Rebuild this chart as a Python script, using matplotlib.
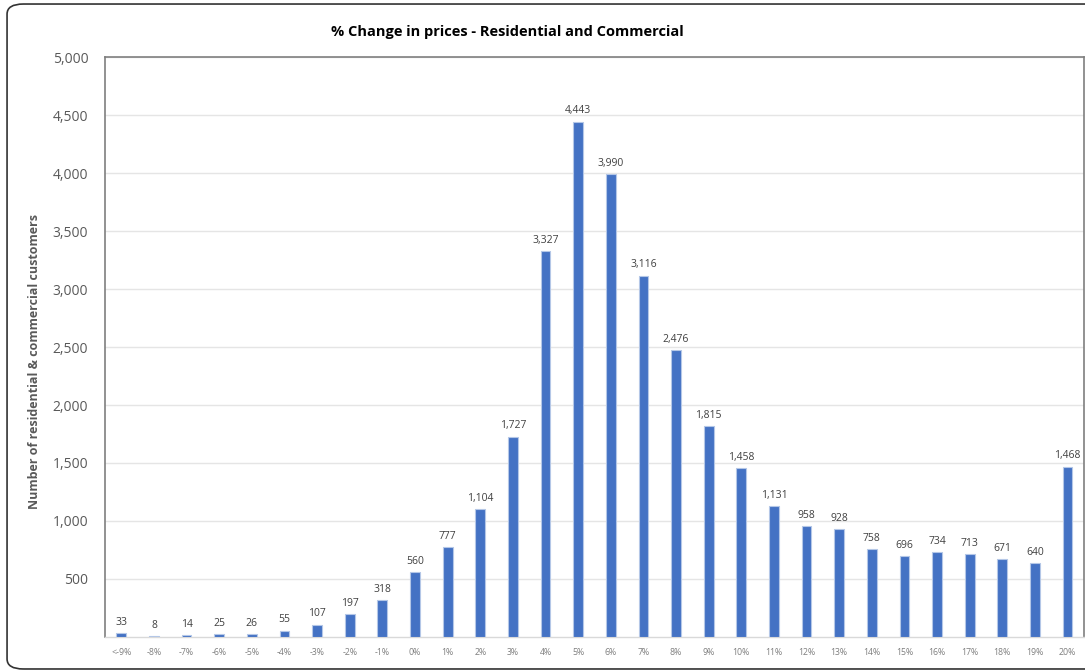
import matplotlib
matplotlib.use("Agg")
import matplotlib.pyplot as plt
from matplotlib.patches import FancyBboxPatch

categories = ["<-9%", "-8%", "-7%", "-6%", "-5%", "-4%", "-3%", "-2%", "-1%", "0%",
              "1%", "2%", "3%", "4%", "5%", "6%", "7%", "8%", "9%", "10%",
              "11%", "12%", "13%", "14%", "15%", "16%", "17%", "18%", "19%", "20%"]
values = [33, 8, 14, 25, 26, 55, 107, 197, 318, 560,
          777, 1104, 1727, 3327, 4443, 3990, 3116, 2476, 1815, 1458,
          1131, 958, 928, 758, 696, 734, 713, 671, 640, 1468]
yticks = [500, 1000, 1500, 2000, 2500, 3000, 3500, 4000, 4500, 5000]

plt.rcParams['font.family'] = ['Open Sans', 'DejaVu Sans']

fig = plt.figure(figsize=(10.85, 6.71), dpi=100)
frame = FancyBboxPatch((0.0065, 0.003), 1.2, 0.991, boxstyle="round,pad=0,rounding_size=0.015",
                       transform=fig.transFigure, facecolor="none", edgecolor="#333333",
                       linewidth=1.2, zorder=0)
fig.patches.append(frame)

ax = fig.add_axes([0.0968, 0.0507, 0.9022, 0.8643])
ax.set_facecolor("none")
x = list(range(len(categories)))
ax.bar(x, values, width=0.3, color="#4472C4", edgecolor="#B4C7E7", linewidth=0.8, zorder=3)
for xi, v in zip(x, values):
    ax.text(xi, v + 45, f"{v:,}", ha="center", va="bottom", fontsize=7.5, color="#404040")

ax.set_xlim(-0.5, len(categories) - 0.5)
ax.set_ylim(0, 5000)
ax.set_yticks(yticks)
ax.set_yticklabels([f"{t:,}" for t in yticks], fontsize=10, color="#595959")
ax.set_xticks(x)
ax.set_xticklabels(categories, fontsize=6.3, color="#7F7F7F")
ax.tick_params(axis="both", length=0, pad=8)
ax.tick_params(axis="y", pad=12)
ax.grid(axis="y", color="#E5E5E5", linewidth=1, zorder=0)
for s in ["top", "left", "right"]:
    ax.spines[s].set_color("#7F7F7F")
    ax.spines[s].set_linewidth(1.2)
ax.spines["bottom"].set_color("#D9D9D9")
ax.spines["bottom"].set_linewidth(1)

ax.set_ylabel("Number of residential & commercial customers", fontsize=9, fontweight="bold",
              color="#595959")
ax.yaxis.set_label_coords(-0.065, 0.475)
fig.text(0.468, 0.953, "% Change in prices - Residential and Commercial", ha="center", va="center",
         fontsize=10.5, fontweight="bold", color="#000000")

fig.savefig("out.png", dpi=100)
